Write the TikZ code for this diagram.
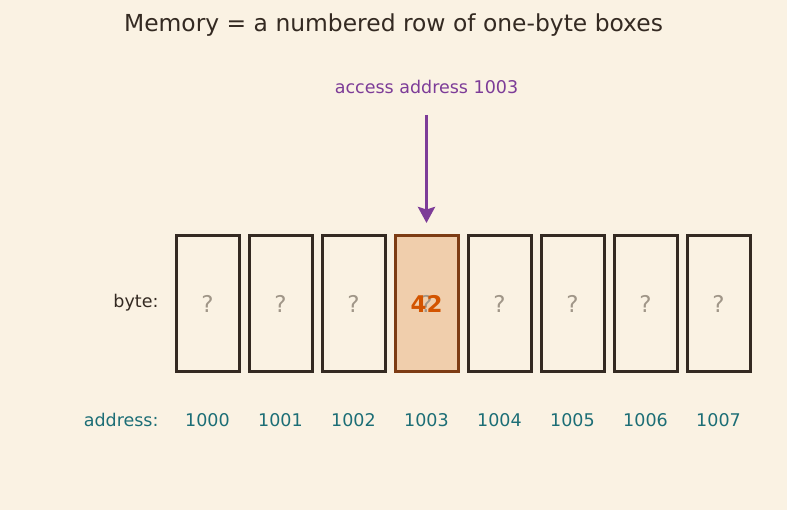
\documentclass[tikz,border=0pt]{standalone}
\usepackage{fontspec}
\setmainfont{DejaVu Sans}
\usepackage{xcolor}
\usepackage{tikz}
\usetikzlibrary{arrows.meta, positioning}
\definecolor{paper}{RGB}{250,242,227}
\definecolor{ink}{RGB}{52,42,34}
\definecolor{unknown}{RGB}{160,150,136}
\definecolor{addrcol}{RGB}{28,110,118}
\definecolor{accesscol}{RGB}{125,60,152}
\definecolor{hotfill}{RGB}{240,206,172}
\definecolor{hotedge}{RGB}{125,60,20}
\definecolor{hotval}{RGB}{211,84,0}

\begin{document}
\begin{tikzpicture}[
  x=1pt, y=-1pt,
  every node/.style={font=\fontsize{17.5}{21}\selectfont},
  cell/.style={rectangle, draw=ink, line width=3pt, minimum width=63pt,
               minimum height=136pt, inner sep=0pt},
  hotcell/.style={cell, draw=hotedge, fill=hotfill},
  qmark/.style={text=unknown, font=\fontsize{23}{26}\selectfont},
  addr/.style={text=addrcol},
  arr/.style={-{Stealth[length=16pt, width=17pt, inset=2.5pt]}, line width=3.5pt, accesscol},
]
  % Background and frame
  \fill[paper] (0,0) rectangle (787,510);
  \useasboundingbox (0,0) rectangle (787,510);

  % Title
  \node[text=ink, font=\fontsize{23.4}{28}\selectfont] (title) at (393.5,25)
    {Memory = a numbered row of one-byte boxes};

  % Byte cells
  \node[cell] (c0) at (207.5,304) {};
  \node[cell] (c1) at (280.5,304) {};
  \node[cell] (c2) at (353.5,304) {};
  \node[hotcell] (c3) at (426.5,304) {};
  \node[cell] (c4) at (499.5,304) {};
  \node[cell] (c5) at (572.5,304) {};
  \node[cell] (c6) at (645.5,304) {};
  \node[cell] (c7) at (718.5,304) {};

  % Cell contents
  \node[qmark] (q0) at (c0) {?};
  \node[qmark] (q1) at (c1) {?};
  \node[qmark] (q2) at (c2) {?};
  \node[qmark] (q3) at (c3) {?};
  \node[qmark] (q4) at (c4) {?};
  \node[qmark] (q5) at (c5) {?};
  \node[qmark] (q6) at (c6) {?};
  \node[qmark] (q7) at (c7) {?};
  \node[text=hotval, font=\fontsize{23}{27}\selectfont\bfseries] (val) at (c3) {42};

  % Row labels
  \node[text=ink, anchor=east] (bytelbl) at (162,303) {byte:};
  \node[addr, anchor=east] (addrlbl) at (162,420) {address:};

  % Addresses
  \node[addr] (a0) at (207.5,420) {1000};
  \node[addr] (a1) at (280.5,420) {1001};
  \node[addr] (a2) at (353.5,420) {1002};
  \node[addr] (a3) at (426.5,420) {1003};
  \node[addr] (a4) at (499.5,420) {1004};
  \node[addr] (a5) at (572.5,420) {1005};
  \node[addr] (a6) at (645.5,420) {1006};
  \node[addr] (a7) at (718.5,420) {1007};

  % Access pointer
  \node[text=accesscol] (access) at (426.5,87) {access address 1003};
  \coordinate (tail) at (426.5,115);
  \coordinate (tip) at (426.5,223);
  \draw[arr] (tail) -- (tip);
\end{tikzpicture}
\end{document}
